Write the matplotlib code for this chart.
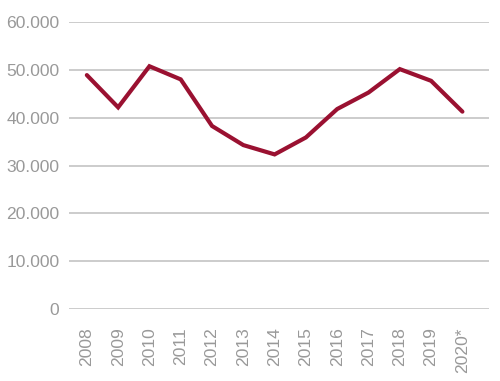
import numpy as np
import matplotlib.pyplot as plt
from matplotlib.ticker import FuncFormatter

years = ["2008", "2009", "2010", "2011", "2012", "2013", "2014",
         "2015", "2016", "2017", "2018", "2019", "2020*"]
values = [48950, 42200, 50800, 48050, 38300, 34300, 32350,
          35900, 41850, 45300, 50200, 47750, 41300]
yticks = [0, 10000, 20000, 30000, 40000, 50000, 60000]

plt.rcParams['font.family'] = ['Liberation Sans', 'DejaVu Sans']

fig = plt.figure(figsize=(5, 3.81), dpi=100)
ax = fig.add_axes([0.138, 0.189, 0.84, 0.7525])

x = np.arange(len(years))
ax.plot(x, values, color='#9a1131', linewidth=3.0, solid_joinstyle='miter',
        solid_capstyle='round', zorder=3)

ax.set_ylim(0, 60000)
ax.set_xlim(-0.57, len(years) - 1 + 0.85)
ax.set_yticks(yticks)
ax.yaxis.set_major_formatter(FuncFormatter(
    lambda v, p: "0" if v == 0 else "{:,.0f}".format(v).replace(",", ".")))
ax.set_xticks(x)
ax.set_xticklabels(years, rotation=90, va='top', ha='center')

ax.grid(True, axis='y', color='#cccccc', linewidth=1.4)
ax.set_axisbelow(True)
for s in ax.spines.values():
    s.set_visible(False)
ax.tick_params(axis='y', length=0, pad=7, labelsize=12.6, labelcolor='#999999')
ax.tick_params(axis='x', length=0, pad=13, labelsize=12.6, labelcolor='#999999')

fig.savefig("out.png", dpi=100)
